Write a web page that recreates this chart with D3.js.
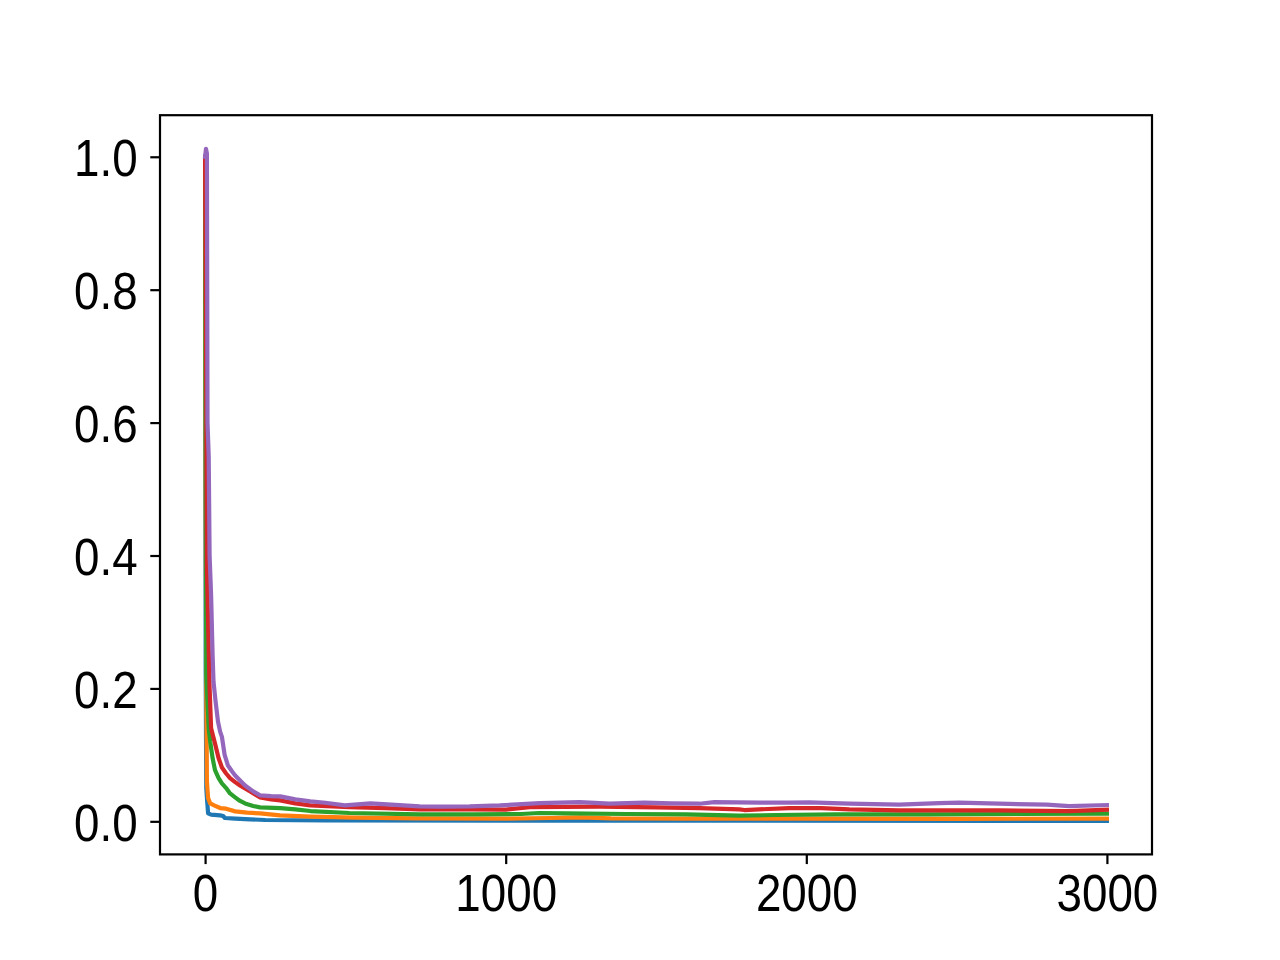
<!DOCTYPE html>
<html>
<head>
<meta charset="utf-8">
<script src="https://cdn.jsdelivr.net/npm/d3@7"></script>
<style>
  html, body { margin: 0; padding: 0; background: #ffffff; }
  svg { display: block; }
  .tick text { font-family: "Liberation Sans", "DejaVu Sans", sans-serif; }
</style>
</head>
<body>
<svg id="chart" width="1280" height="960"></svg>
<script>
// ---- data ----
const blueSteps  = [0, 2, 4, 7, 10, 20, 50, 60, 66, 100, 150, 200, 400, 1000, 3000];
const blueValues = [1.0, 0.23, 0.05, 0.03, 0.012, 0.010, 0.009, 0.008, 0.005, 0.004, 0.003, 0.002, 0.0015, 0.001, 0.0008];

const orangeSteps  = [0, 2, 4, 6, 10, 17, 30, 50, 70, 100, 140, 183, 250, 350, 500, 700, 1000, 1150, 1250, 1350, 1600, 2000, 2500, 3000];
const orangeValues = [1.0, 0.5, 0.2, 0.06, 0.035, 0.027, 0.024, 0.02, 0.019, 0.015, 0.013, 0.012, 0.009, 0.007, 0.0055, 0.0045, 0.004, 0.005, 0.006, 0.0045, 0.004, 0.004, 0.0038, 0.004];

const greenSteps  = [0, 2, 4, 7, 12, 17, 25, 33, 45, 56, 70, 83, 100, 115, 133, 160, 183, 250, 300, 350, 480, 714, 900, 1050, 1113, 1200, 1400, 1600, 1777, 1900, 2100, 2400, 2700, 3000];
const greenValues = [1.0, 0.55, 0.22, 0.19, 0.14, 0.12, 0.095, 0.077, 0.065, 0.057, 0.05, 0.042, 0.036, 0.031, 0.027, 0.023, 0.021, 0.02, 0.018, 0.0155, 0.0125, 0.0105, 0.0105, 0.011, 0.0125, 0.012, 0.011, 0.0105, 0.0085, 0.0095, 0.0105, 0.0105, 0.011, 0.0115];

const redSteps  = [0, 3, 6, 10, 15, 20, 33, 45, 56, 70, 83, 100, 116, 150, 183, 220, 250, 300, 350, 480, 600, 714, 880, 1000, 1080, 1312, 1500, 1645, 1777, 1794, 1943, 2050, 2143, 2309, 2641, 2874, 3000];
const redValues = [1.0, 0.75, 0.38, 0.3, 0.2, 0.14, 0.117, 0.095, 0.081, 0.072, 0.065, 0.059, 0.054, 0.045, 0.036, 0.033, 0.0315, 0.027, 0.024, 0.0215, 0.02, 0.018, 0.018, 0.0175, 0.0215, 0.022, 0.021, 0.02, 0.018, 0.017, 0.02, 0.02, 0.018, 0.0165, 0.0165, 0.0155, 0.0175];

const purpleSteps  = [0, 3, 6, 8, 12, 15, 20, 25, 28, 35, 43, 50, 56, 65, 76, 90, 100, 133, 160, 183, 220, 250, 300, 350, 400, 465, 550, 620, 714, 780, 880, 980, 1113, 1246, 1346, 1462, 1550, 1645, 1694, 1844, 1943, 2010, 2143, 2309, 2442, 2508, 2641, 2800, 2874, 3000];
const purpleValues = [1.0, 1.012, 1.005, 0.6, 0.55, 0.4, 0.34, 0.25, 0.21, 0.18, 0.15, 0.135, 0.127, 0.1, 0.084, 0.075, 0.069, 0.054, 0.045, 0.039, 0.038, 0.0375, 0.033, 0.03, 0.028, 0.024, 0.027, 0.025, 0.0225, 0.022, 0.0225, 0.024, 0.0275, 0.029, 0.0265, 0.028, 0.027, 0.0265, 0.029, 0.028, 0.028, 0.0285, 0.0265, 0.025, 0.0275, 0.028, 0.0265, 0.025, 0.023, 0.0245];

const xTickValues = [0, 1000, 2000, 3000];
const yTickValues = [0.0, 0.2, 0.4, 0.6, 0.8, 1.0];
const seriesColors = ["#1f77b4", "#ff7f0e", "#2ca02c", "#d62728", "#9467bd"];

const series = [
  { steps: blueSteps, values: blueValues },
  { steps: orangeSteps, values: orangeValues },
  { steps: greenSteps, values: greenValues },
  { steps: redSteps, values: redValues },
  { steps: purpleSteps, values: purpleValues }
];

// ---- layout (matplotlib defaults at 200 dpi) ----
const W = 1280, H = 960;
const padL = 0.125 * W, padR = 0.9 * W, padT = 0.12 * H, padB = 0.89 * H;

const allX = series.flatMap(s => s.steps);
const allY = series.flatMap(s => s.values);
const [x0, x1] = d3.extent(allX);
const [y0, y1] = d3.extent(allY);
const mx = (x1 - x0) * 0.05, my = (y1 - y0) * 0.05;

const x = d3.scaleLinear().domain([x0 - mx, x1 + mx]).range([padL, padR]);
const y = d3.scaleLinear().domain([y0 - my, y1 + my]).range([padB, padT]);

const svg = d3.select("#chart");
svg.append("rect").attr("width", W).attr("height", H).attr("fill", "#ffffff");

svg.append("defs").append("clipPath").attr("id", "plotclip")
  .append("rect").attr("x", padL).attr("y", padT).attr("width", padR - padL).attr("height", padB - padT);

const line = d3.line().x(d => x(d[0])).y(d => y(d[1]));

const gLines = svg.append("g").attr("clip-path", "url(#plotclip)");
series.forEach((s, i) => {
  const pts = s.steps.map((v, k) => [v, s.values[k]]);
  gLines.append("path")
    .datum(pts)
    .attr("d", line)
    .attr("fill", "none")
    .attr("stroke", seriesColors[i])
    .attr("stroke-width", 4.2)
    .attr("stroke-linejoin", "round")
    .attr("stroke-linecap", "square");
});

// axes
const tickLen = 9.7, tickPad = 9.7, fontSize = 52, squeeze = 0.88;
const xAxis = d3.axisBottom(x).tickValues(xTickValues).tickFormat(d3.format("d"))
  .tickSizeInner(tickLen).tickSizeOuter(0).tickPadding(tickPad);
const yAxis = d3.axisLeft(y).tickValues(yTickValues).tickFormat(d3.format(".1f"))
  .tickSizeInner(tickLen).tickSizeOuter(0).tickPadding(tickPad + 3);

const gx = svg.append("g").attr("transform", `translate(0,${padB})`).call(xAxis);
const gy = svg.append("g").attr("transform", `translate(${padL},0)`).call(yAxis);
[gx, gy].forEach(g => {
  g.select(".domain").remove();
  g.selectAll(".tick line").attr("stroke", "#000").attr("stroke-width", 2.2);
  g.selectAll(".tick text").attr("fill", "#000").attr("font-size", fontSize)
    .each(function () {
      const len = this.getComputedTextLength();
      d3.select(this).attr("textLength", len * squeeze).attr("lengthAdjust", "spacingAndGlyphs");
    });
});
gx.selectAll(".tick text").attr("dy", "0.72em");
gy.selectAll(".tick text").attr("dy", "0.36em");

// frame
svg.append("rect")
  .attr("x", padL).attr("y", padT)
  .attr("width", padR - padL).attr("height", padB - padT)
  .attr("fill", "none").attr("stroke", "#000").attr("stroke-width", 2.2);
</script>
</body>
</html>
